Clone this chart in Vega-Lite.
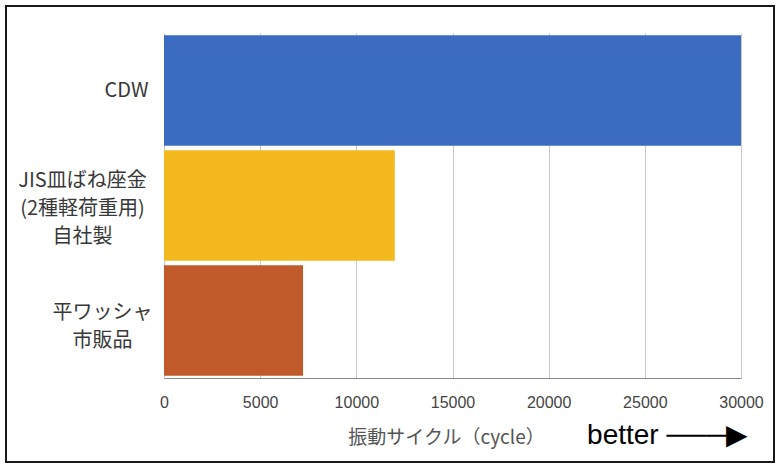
{
  "$schema": "https://vega.github.io/schema/vega-lite/v6.json",
  "width": 768,
  "height": 456,
  "autosize": {"type": "none"},
  "padding": {"left": 6, "top": 6, "right": 7, "bottom": 4},
  "background": "white",
  "data": {
    "values": [
      {"name": "CDW", "cycles": 30000, "order": 1},
      {"name": "JIS皿ばね座金|(2種軽荷重用)|自社製", "cycles": 12000, "order": 2},
      {"name": "平ワッシャ|市販品", "cycles": 7230, "order": 3}
    ]
  },
  "title": {
    "text": "better ───▶",
    "orient": "bottom",
    "anchor": "end",
    "frame": "group",
    "offset": -40,
    "dx": -26,
    "fontSize": 28,
    "fontWeight": "normal",
    "color": "#000000",
    "font": "Liberation Sans"
  },
  "mark": {"type": "bar"},
  "encoding": {
    "y": {
      "field": "name",
      "type": "nominal",
      "sort": {"field": "order"},
      "scale": {"paddingInner": 0.04, "paddingOuter": 0.02, "range": [27, 372]},
      "axis": {
        "title": null,
        "offset": -158,
        "labelExpr": "split(datum.label, '|')",
        "labelFont": "Noto Sans CJK JP",
        "labelFontSize": 20,
        "labelLineHeight": 28,
        "labelColor": "#383838",
        "labelAlign": "center",
        "labelPadding": {
          "condition": [
            {"test": "indexof(datum.value, '自社製') >= 0", "value": 82},
            {"test": "indexof(datum.value, '市販品') >= 0", "value": 62}
          ],
          "value": 38
        },
        "labelOffset": {
          "condition": [
            {"test": "indexof(datum.value, '自社製') >= 0", "value": -25},
            {"test": "indexof(datum.value, '市販品') >= 0", "value": -8}
          ],
          "value": 0
        },
        "ticks": false,
        "domain": false,
        "grid": false,
        "labelLimit": 300
      }
    },
    "x": {
      "field": "cycles",
      "type": "quantitative",
      "scale": {"domain": [0, 30000], "nice": false, "range": [158, 735]},
      "axis": {
        "orient": "top",
        "offset": -372,
        "title": "振動サイクル（cycle）",
        "titleFont": "Noto Sans CJK JP",
        "titleFontSize": 19,
        "titleFontWeight": "normal",
        "titleColor": "#555555",
        "titleBaseline": "middle",
        "titleAnchor": "middle",
        "titleX": 440,
        "titleY": 59,
        "values": [0, 5000, 10000, 15000, 20000, 25000, 30000],
        "format": "d",
        "labelFont": "Liberation Sans",
        "labelFontSize": 16,
        "labelColor": "#444444",
        "labelBaseline": "middle",
        "labelPadding": -24,
        "ticks": false,
        "domainColor": "#888888",
        "gridColor": "#c8c8c8",
        "labelFlush": false
      }
    },
    "color": {
      "field": "name",
      "type": "nominal",
      "scale": {
        "domain": ["CDW", "JIS皿ばね座金|(2種軽荷重用)|自社製", "平ワッシャ|市販品"],
        "range": ["#3b6cc1", "#f3b91e", "#c05a2b"]
      },
      "legend": null
    }
  },
  "config": {
    "view": {"stroke": "#1a1a1a", "strokeWidth": 2}
  }
}
